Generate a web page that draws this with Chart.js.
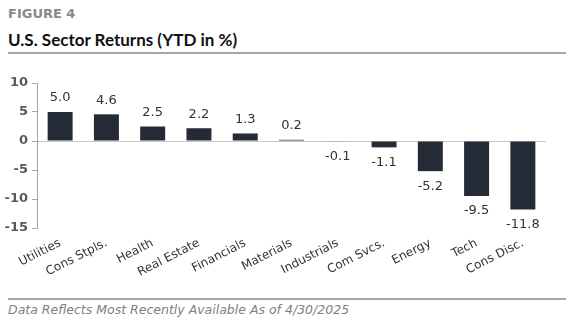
<!DOCTYPE html>
<html>
<head>
<meta charset="utf-8">
<script src="https://cdn.jsdelivr.net/npm/chart.js@4/dist/chart.umd.min.js"></script>
<style>
  html, body { margin: 0; padding: 0; background: #fff; }
  body { width: 574px; height: 331px; position: relative; overflow: hidden; font-family: "DejaVu Sans", sans-serif; }
  #fig { position: absolute; left: 8px; top: 6px; font-size: 13px; font-weight: bold; color: #8a8a8a; }
  #title { position: absolute; left: 8px; top: 29px; font-family: Lato, sans-serif; font-size: 17px; font-weight: bold; color: #111; }
  .rule { position: absolute; left: 8px; width: 558px; height: 2px; background: #a6a6a6; }
  #foot { position: absolute; left: 8px; top: 302px; font-size: 12.5px; font-style: italic; color: #808080; }
  #wrap { position: absolute; left: 0; top: 60px; width: 574px; height: 230px; }
</style>
</head>
<body>
<div id="fig">FIGURE 4</div>
<div id="title">U.S. Sector Returns (YTD in %)</div>
<div class="rule" style="top:52px"></div>
<div id="wrap"><canvas id="sectorChart"></canvas></div>
<div class="rule" style="top:298px"></div>
<div id="foot">Data Reflects Most Recently Available As of 4/30/2025</div>
<script>
  const sectors = ['Utilities','Cons Stpls.','Health','Real Estate','Financials','Materials','Industrials','Com Svcs.','Energy','Tech','Cons Disc.'];
  const ytdReturns = [5.0, 4.6, 2.5, 2.2, 1.3, 0.2, -0.1, -1.1, -5.2, -9.5, -11.8];
  const yTicks = [10, 5, 0, -5, -10, -15];

  // value labels above positive bars, below negative ones
  const valueLabels = {
    id: 'valueLabels',
    afterDatasetsDraw(chart) {
      const c = chart.ctx;
      const meta = chart.getDatasetMeta(0);
      c.save();
      c.font = '13px "DejaVu Sans", sans-serif';
      c.fillStyle = '#333';
      c.textAlign = 'center';
      c.textBaseline = 'middle';
      meta.data.forEach((bar, i) => {
        const v = ytdReturns[i];
        const y = v >= 0 ? bar.y - 14 : bar.y + 15;
        c.fillText(v.toFixed(1), bar.x, y);
      });
      c.restore();
    }
  };

  const ctx = document.getElementById('sectorChart').getContext('2d');
  new Chart(ctx, {
    type: 'bar',
    data: {
      labels: sectors,
      datasets: [{
        data: ytdReturns,
        backgroundColor: '#252b36',
        barPercentage: 0.54,
        categoryPercentage: 1.0
      }]
    },
    options: {
      responsive: true,
      maintainAspectRatio: false,
      animation: false,
      layout: { padding: { top: 23, right: 28, left: 0, bottom: 0 } },
      plugins: { legend: { display: false }, tooltip: { enabled: false } },
      scales: {
        x: {
          grid: { display: false },
          border: { display: false },
          ticks: {
            color: '#333',
            font: { family: '"DejaVu Sans", sans-serif', size: 12 },
            minRotation: 27, maxRotation: 27,
            padding: 0,
            autoSkip: false
          },
          afterFit(scale) { scale.height = 62; }
        },
        y: {
          min: -15, max: 10,
          afterBuildTicks(scale) { scale.ticks = yTicks.map(v => ({ value: v })); },
          grid: {
            color: (c) => c.tick && c.tick.value === 0 ? '#c8c8c8' : 'rgba(0,0,0,0)',
            tickColor: '#a6a6a6',
            tickLength: 5,
            lineWidth: 1
          },
          border: { display: true, color: '#a6a6a6' },
          ticks: {
            color: '#595959',
            font: { family: '"DejaVu Sans", sans-serif', size: 13, weight: 'bold' },
            padding: 4
          },
          afterFit(scale) { scale.width = 37; }
        }
      }
    },
    plugins: [valueLabels]
  });
</script>
</body>
</html>
